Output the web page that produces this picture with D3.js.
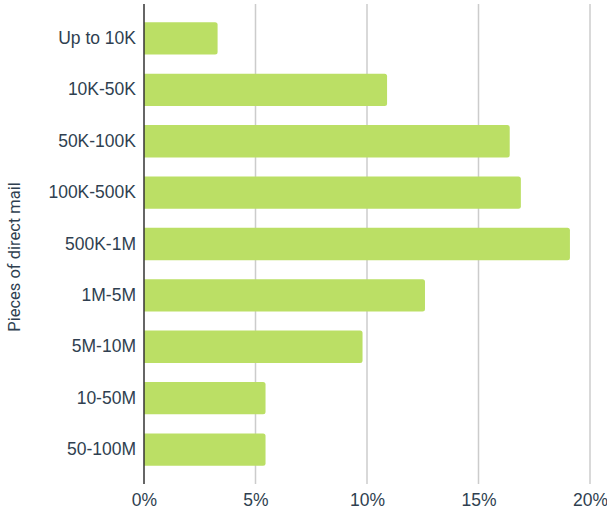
<!DOCTYPE html>
<html>
<head>
<meta charset="utf-8">
<script src="https://cdn.jsdelivr.net/npm/d3@7/dist/d3.min.js"></script>
<style>
  html, body { margin: 0; padding: 0; background: #fff; }
  svg { display: block; font-family: Roboto, "Noto Sans", sans-serif; }
</style>
</head>
<body>
<svg id="chart" width="607" height="510"></svg>
<script>
// Share of respondents by volume of direct mail sent
const categories = ["Up to 10K", "10K-50K", "50K-100K", "100K-500K", "500K-1M",
                    "1M-5M", "5M-10M", "10-50M", "50-100M"];
const shares = [3.3, 10.9, 16.4, 16.9, 19.1, 12.6, 9.8, 5.45, 5.45];
const xTicks = [0, 5, 10, 15, 20];
const yTitle = "Pieces of direct mail";

const svg = d3.select("#chart");
const margin = { left: 144, right: 17, top: 4, bottom: 26 };
const W = 607, H = 510;

const x = d3.scaleLinear().domain([0, 20]).range([margin.left, W - margin.right]);
const y = d3.scaleBand().domain(categories)
  .range([margin.top, H - margin.bottom])
  .paddingInner(0.37).paddingOuter(0.355);

const textColor = "#2f3f50";

// vertical gridlines
svg.append("g").selectAll("line")
  .data(xTicks.filter(d => d > 0))
  .join("line")
  .attr("x1", d => x(d)).attr("x2", d => x(d))
  .attr("y1", margin.top).attr("y2", H - margin.bottom)
  .attr("stroke", "#cccccc").attr("stroke-width", 1.5);

// bars with rounded right ends
const r = 2.5;
svg.append("g").selectAll("path")
  .data(categories.map((c, i) => ({ c, v: shares[i] })))
  .join("path")
  .attr("fill", "#bbdf65")
  .attr("d", d => {
    const x0 = x(0), x1 = x(d.v), y0 = y(d.c), h = y.bandwidth();
    return `M${x0},${y0} H${x1 - r} Q${x1},${y0} ${x1},${y0 + r} V${y0 + h - r} Q${x1},${y0 + h} ${x1 - r},${y0 + h} H${x0} Z`;
  });

// x axis tick labels
const xAxis = d3.axisBottom(x).tickValues(xTicks).tickFormat(d => d + "%").tickSize(0).tickPadding(10);
const gx = svg.append("g").attr("transform", `translate(0,${H - margin.bottom})`).call(xAxis);
gx.select(".domain").remove();
gx.selectAll("text").attr("fill", textColor).style("font-size", "17.5px");

// y axis with category labels
const yAxis = d3.axisLeft(y).tickSize(0).tickPadding(8);
const gy = svg.append("g").attr("transform", `translate(${margin.left},0)`).call(yAxis);
gy.select(".domain").remove();
gy.selectAll("text").attr("fill", textColor).style("font-size", "17.5px");

// baseline
svg.append("line")
  .attr("x1", x(0)).attr("x2", x(0))
  .attr("y1", margin.top).attr("y2", H - margin.bottom)
  .attr("stroke", "#333").attr("stroke-width", 1.5);

// y axis title
svg.append("text")
  .attr("transform", "translate(20,257) rotate(-90)")
  .attr("text-anchor", "middle")
  .attr("fill", textColor)
  .style("font-size", "16.5px")
  .text(yTitle);
</script>
</body>
</html>
